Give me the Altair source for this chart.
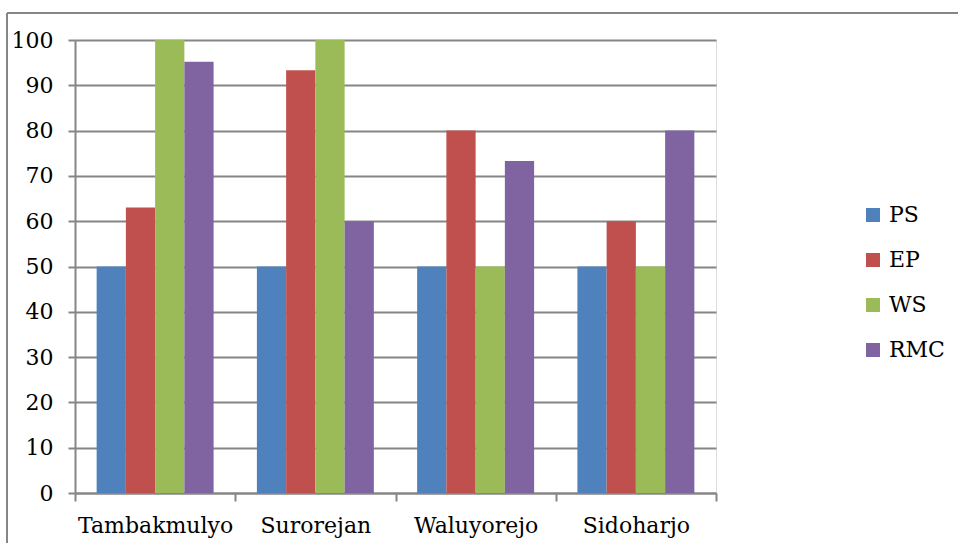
import altair as alt
import pandas as pd

villages = ["Tambakmulyo", "Surorejan", "Waluyorejo", "Sidoharjo"]
series = ["PS", "EP", "WS", "RMC"]
ps = [50, 50, 50, 50]
ep = [63, 93.3, 80, 60]
ws = [100, 100, 50, 50]
rmc = [95.2, 60, 73.3, 80]
colors = ["#4F81BD", "#C0504D", "#9BBB59", "#8064A2"]

rows = []
for i, v in enumerate(villages):
    for s, vals in zip(series, [ps, ep, ws, rmc]):
        rows.append({"village": v, "series": s, "value": vals[i]})
df = pd.DataFrame(rows)

FONT = "DejaVu Serif"
FS = 22
GRID = "#868686"

bars = alt.Chart(df).mark_bar().encode(
    x=alt.X("village:N", sort=villages, title=None,
            scale=alt.Scale(paddingInner=0, paddingOuter=0),
            axis=alt.Axis(labelAngle=0, tickBand="extent", grid=False,
                          domainColor=GRID, domainWidth=2, tickColor=GRID,
                          tickWidth=2, tickSize=8, labelPadding=14,
                          labelFont=FONT, labelFontSize=FS, labelColor="black")),
    xOffset=alt.XOffset("series:N", sort=series,
                        scale=alt.Scale(paddingInner=0, paddingOuter=0.74)),
    y=alt.Y("value:Q", title=None,
            scale=alt.Scale(domain=[0, 100], nice=False),
            axis=alt.Axis(values=list(range(0, 101, 10)), grid=True,
                          gridColor=GRID, gridWidth=2, domainColor=GRID,
                          domainWidth=2, tickColor=GRID, tickWidth=2,
                          tickSize=7, labelPadding=15, labelFont=FONT,
                          labelFontSize=FS, labelColor="black")),
    color=alt.Color("series:N", sort=series,
                    scale=alt.Scale(domain=series, range=colors),
                    legend=alt.Legend(title=None, orient="none", legendX=787,
                                      legendY=164, symbolType="square",
                                      symbolSize=196, symbolStrokeWidth=0,
                                      labelFont=FONT, labelFontSize=FS,
                                      labelColor="black", labelOffset=5,
                                      rowPadding=23, padding=0)),
)

border_top = alt.Chart(pd.DataFrame({"a": [0]})).mark_rule(
    color=GRID, strokeWidth=2).encode(
    x=alt.value(-68), x2=alt.value(883), y=alt.value(-27))
border_left = alt.Chart(pd.DataFrame({"a": [0]})).mark_rule(
    color=GRID, strokeWidth=2).encode(
    x=alt.value(-68), y=alt.value(-27), y2=alt.value(503))

chart = alt.layer(bars, border_top, border_left).properties(
    width=641, height=453,
    autosize=alt.AutoSizeParams(type="none"),
    padding={"left": 75, "top": 40, "right": 242, "bottom": 50},
).configure_view(stroke=None).configure(background="white", font=FONT)

chart.save("out.html", embed_options={"renderer": "svg", "actions": False})
